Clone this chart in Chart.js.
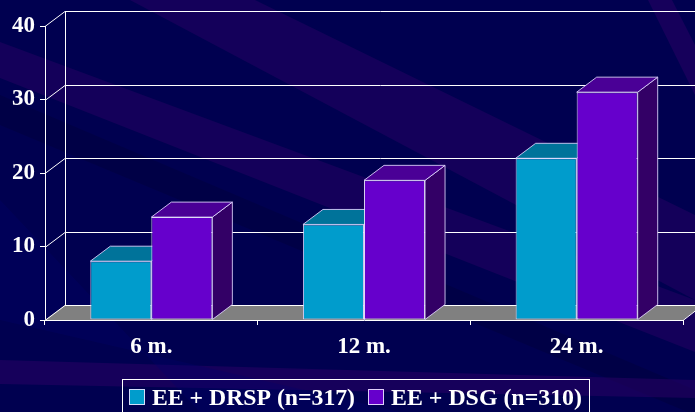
<!DOCTYPE html>
<html>
<head>
<meta charset="utf-8">
<script src="https://cdn.jsdelivr.net/npm/chart.js@4.4.1/dist/chart.umd.min.js"></script>
<style>
  html, body { margin: 0; padding: 0; background: #000050; }
  #wrap { width: 695px; height: 412px; position: relative; }
</style>
</head>
<body>
<div id="wrap"><canvas id="c" width="695" height="412"></canvas></div>
<script>
// Months of treatment on the x axis
const categories = ['6 m.', '12 m.', '24 m.'];
// Series values (percent)
const drspValues = [8, 13, 22];
const dsgValues = [14, 19, 31];
const seriesNames = ['EE + DRSP (n=317)', 'EE + DSG (n=310)'];
// Value axis
const yMin = 0, yMax = 40, yStep = 10;

// Faces of each 3-D bar: front, top, side
const faceColors = [
  { front: '#009ccc', top: '#00739a', side: '#005577' },
  { front: '#6600cc', top: '#4a0096', side: '#330066' }
];
const DEPTH_X = 20, DEPTH_Y = -15;
const FONT = '"Liberation Serif", "Times New Roman", serif';

// Dark slide background with diagonal violet bands
const backdrop = {
  id: 'backdrop',
  beforeDraw(chart) {
    const ctx = chart.ctx, W = chart.width, H = chart.height;
    ctx.save();
    ctx.fillStyle = '#000050';
    ctx.fillRect(0, 0, W, H);
    const band = (pts, color) => {
      ctx.beginPath();
      ctx.moveTo(pts[0][0], pts[0][1]);
      for (let i = 1; i < pts.length; i++) ctx.lineTo(pts[i][0], pts[i][1]);
      ctx.closePath();
      ctx.fillStyle = color;
      ctx.fill();
    };
    band([[0, 42], [0, 78], [695, 352], [695, 300]], 'rgba(40,0,100,0.5)');
    band([[130, 0], [255, 0], [695, 215], [695, 300]], 'rgba(40,0,100,0.5)');
    band([[0, 95], [0, 125], [695, 415], [695, 390]], 'rgba(0,0,30,0.18)');
    band([[0, 360], [0, 384], [695, 398], [695, 380]], 'rgba(40,0,100,0.55)');
    band([[648, 0], [672, 0], [695, 45], [695, 95]], 'rgba(40,0,100,0.55)');
    band([[0, 200], [0, 320], [400, 412], [200, 412]], 'rgba(0,0,110,0.3)');
    ctx.restore();
  }
};

// Back wall, side wall lines, floor and the top/side faces of the bars
const box3d = {
  id: 'box3d',
  beforeDatasetsDraw(chart) {
    const ctx = chart.ctx, a = chart.chartArea, y = chart.scales.y;
    ctx.save();
    // floor
    ctx.beginPath();
    ctx.moveTo(a.left, a.bottom);
    ctx.lineTo(a.left + DEPTH_X, a.bottom + DEPTH_Y);
    ctx.lineTo(a.right + DEPTH_X, a.bottom + DEPTH_Y);
    ctx.lineTo(a.right, a.bottom);
    ctx.closePath();
    ctx.fillStyle = '#808080';
    ctx.fill();
    ctx.strokeStyle = '#ffffff';
    ctx.lineWidth = 1;
    ctx.beginPath();
    ctx.moveTo(a.right, a.bottom + 0.5);
    ctx.lineTo(a.right + DEPTH_X, a.bottom + DEPTH_Y);
    ctx.stroke();
    // gridlines on the back wall and the left wall
    for (let v = yMin; v <= yMax; v += yStep) {
      const py = Math.round(y.getPixelForValue(v)) + 0.5;
      ctx.beginPath();
      ctx.moveTo(a.left, py);
      ctx.lineTo(a.left + DEPTH_X, py + DEPTH_Y);
      ctx.lineTo(a.right + DEPTH_X, py + DEPTH_Y);
      ctx.stroke();
    }
    ctx.beginPath();
    ctx.moveTo(a.left + DEPTH_X + 0.5, y.getPixelForValue(yMax) + DEPTH_Y);
    ctx.lineTo(a.left + DEPTH_X + 0.5, y.getPixelForValue(yMin) + DEPTH_Y);
    ctx.stroke();
    // bar tops and sides
    ctx.strokeStyle = 'rgba(225,215,255,0.85)';
    chart.data.datasets.forEach((ds, di) => {
      const meta = chart.getDatasetMeta(di);
      meta.data.forEach(bar => {
        const x0 = bar.x - bar.width / 2, x1 = bar.x + bar.width / 2;
        const t = bar.y, b = bar.base;
        ctx.beginPath();
        ctx.moveTo(x1, b);
        ctx.lineTo(x1 + DEPTH_X, b + DEPTH_Y);
        ctx.lineTo(x1 + DEPTH_X, t + DEPTH_Y);
        ctx.lineTo(x1, t);
        ctx.closePath();
        ctx.fillStyle = faceColors[di].side;
        ctx.fill();
        ctx.stroke();
        ctx.beginPath();
        ctx.moveTo(x0, t);
        ctx.lineTo(x0 + DEPTH_X, t + DEPTH_Y);
        ctx.lineTo(x1 + DEPTH_X, t + DEPTH_Y);
        ctx.lineTo(x1, t);
        ctx.closePath();
        ctx.fillStyle = faceColors[di].top;
        ctx.fill();
        ctx.stroke();
      });
    });
    ctx.restore();
  }
};

// Boxed legend under the axis
const boxedLegend = {
  id: 'boxedLegend',
  afterDraw(chart) {
    const ctx = chart.ctx;
    ctx.save();
    ctx.strokeStyle = '#ffffff';
    ctx.lineWidth = 1;
    ctx.strokeRect(122.5, 379.5, 467, 40);
    ctx.font = 'bold 23px ' + FONT;
    ctx.textBaseline = 'alphabetic';
    const starts = [129, 368];
    chart.data.datasets.forEach((ds, i) => {
      const x = starts[i];
      ctx.fillStyle = faceColors[i].front;
      ctx.fillRect(x, 389, 16, 16);
      ctx.strokeStyle = 'rgba(235,230,255,0.9)';
      ctx.strokeRect(x + 0.5, 389.5, 15, 15);
      ctx.fillStyle = '#ffffff';
      const w = ctx.measureText(ds.label).width;
      const target = i === 0 ? 203 : 191;
      ctx.save();
      ctx.translate(x + 23, 405);
      ctx.scale(target / w, 1);
      ctx.fillText(ds.label, 0, 0);
      ctx.restore();
    });
    ctx.restore();
  }
};

new Chart(document.getElementById('c'), {
  type: 'bar',
  data: {
    labels: categories,
    datasets: [
      { label: seriesNames[0], data: drspValues, backgroundColor: faceColors[0].front,
        borderColor: 'rgba(225,215,255,0.85)', borderWidth: 1, borderSkipped: false },
      { label: seriesNames[1], data: dsgValues, backgroundColor: faceColors[1].front,
        borderColor: 'rgba(235,230,255,0.9)', borderWidth: 1, borderSkipped: false }
    ]
  },
  options: {
    responsive: false,
    animation: false,
    events: [],
    layout: { padding: { top: 26, right: 12, bottom: 52, left: 0 } },
    datasets: { bar: { categoryPercentage: 0.574, barPercentage: 1.0 } },
    plugins: { legend: { display: false }, tooltip: { enabled: false } },
    scales: {
      x: {
        offset: true,
        grid: { offset: true, drawOnChartArea: false, color: '#ffffff', tickLength: 5 },
        border: { color: '#ffffff' },
        ticks: { color: '#ffffff', font: { family: FONT, size: 23, weight: 'bold' }, padding: 8 },
        afterFit(scale) { scale.height = 40; }
      },
      y: {
        min: yMin, max: yMax,
        grid: { drawOnChartArea: false, color: '#ffffff', tickLength: 5 },
        border: { color: '#ffffff' },
        ticks: { stepSize: yStep, color: '#ffffff', font: { family: FONT, size: 23, weight: 'bold' }, padding: 5 },
        afterFit(scale) { scale.width = 45; }
      }
    }
  },
  plugins: [backdrop, box3d, boxedLegend]
});
</script>
</body>
</html>
